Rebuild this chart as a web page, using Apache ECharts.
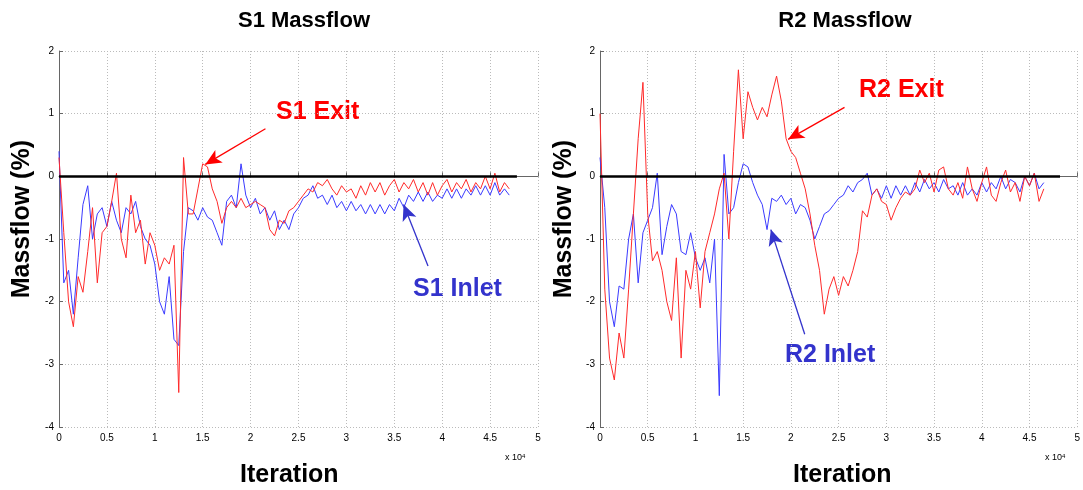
<!DOCTYPE html>
<html>
<head>
<meta charset="utf-8">
<script src="https://cdn.jsdelivr.net/npm/echarts@6/dist/echarts.min.js"></script>
<style>
html, body { margin: 0; padding: 0; background: #fff; }
#main { width: 1083px; height: 490px; }
</style>
</head>
<body>
<div id="main"></div>
<script>
// iteration samples (every 500)
var iterations = [0,500,1000,1500,2000,2500,3000,3500,4000,4500,
  5000,5500,6000,6500,7000,7500,8000,8500,9000,9500,
  10000,10500,11000,11500,12000,12500,13000,13500,14000,14500,
  15000,15500,16000,16500,17000,17500,18000,18500,19000,19500,
  20000,20500,21000,21500,22000,22500,23000,23500,24000,24500,
  25000,25500,26000,26500,27000,27500,28000,28500,29000,29500,
  30000,30500,31000,31500,32000,32500,33000,33500,34000,34500,
  35000,35500,36000,36500,37000,37500,38000,38500,39000,39500,
  40000,40500,41000,41500,42000,42500,43000,43500,44000,44500,
  45000,45500,46000,46500,47000]

// S1 massflow (%)
var s1Exit = [0.3,-0.9,-2.0,-2.4,-1.6,-1.85,-1.2,-0.5,-1.7,-0.9,
  -0.8,-0.4,0.05,-1.0,-1.3,-0.3,-0.9,-0.7,-1.4,-0.9,
  -1.1,-1.5,-1.3,-1.4,-1.1,-3.45,0.3,-0.6,-0.6,-0.2,
  0.2,0.15,-0.2,-0.4,-0.75,-0.5,-0.4,-0.5,-0.35,-0.5,
  -0.45,-0.4,-0.45,-0.5,-0.85,-0.95,-0.7,-0.75,-0.55,-0.5,
  -0.4,-0.3,-0.2,-0.25,-0.1,-0.15,-0.05,-0.2,-0.3,-0.15,
  -0.25,-0.2,-0.35,-0.15,-0.3,-0.1,-0.25,-0.1,-0.3,-0.15,
  -0.05,-0.25,-0.1,-0.2,-0.05,-0.25,-0.1,-0.3,-0.1,-0.3,
  -0.15,-0.05,-0.25,-0.1,-0.2,-0.05,-0.25,-0.1,-0.2,0.0,
  -0.2,0.05,-0.25,-0.1,-0.2]
var s1Inlet = [0.4,-1.7,-1.5,-2.2,-1.3,-0.45,-0.15,-1.0,-0.6,-0.5,
  -0.8,-0.4,-0.7,-0.9,-0.5,-0.6,-0.4,-0.8,-1.0,-1.1,
  -1.4,-2.0,-2.2,-1.6,-2.6,-2.7,-1.2,-0.5,-0.55,-0.7,
  -0.5,-0.65,-0.7,-0.9,-1.1,-0.4,-0.3,-0.5,0.2,-0.3,
  -0.5,-0.35,-0.6,-0.5,-0.7,-0.55,-0.85,-0.7,-0.85,-0.6,
  -0.5,-0.35,-0.3,-0.15,-0.35,-0.3,-0.45,-0.3,-0.5,-0.4,
  -0.55,-0.4,-0.55,-0.45,-0.6,-0.45,-0.6,-0.45,-0.6,-0.45,
  -0.55,-0.35,-0.5,-0.3,-0.4,-0.25,-0.4,-0.25,-0.4,-0.3,
  -0.35,-0.2,-0.35,-0.2,-0.35,-0.2,-0.3,-0.15,-0.3,-0.15,
  -0.3,-0.1,-0.3,-0.2,-0.3]

// R2 massflow (%)
var r2Exit = [1.0,-1.8,-2.9,-3.25,-2.5,-2.9,-1.8,-0.6,0.6,1.5,
  -0.6,-1.35,-1.2,-1.5,-2.0,-2.3,-1.3,-2.9,-1.5,-1.8,
  -1.2,-2.1,-1.2,-0.9,-0.6,-0.2,0.05,-1.0,0.4,1.7,
  0.6,1.35,1.1,0.9,1.1,0.95,1.3,1.6,1.2,0.6,
  0.4,0.3,0.05,-0.2,-0.6,-1.1,-1.5,-2.2,-1.8,-1.6,
  -1.9,-1.6,-1.75,-1.5,-1.2,-0.55,-0.65,-0.3,-0.2,-0.4,
  -0.45,-0.7,-0.5,-0.35,-0.25,-0.3,-0.2,0.1,-0.1,0.05,
  -0.25,0.1,0.15,-0.2,-0.3,-0.1,-0.35,0.15,-0.2,-0.4,
  -0.1,0.15,-0.3,-0.4,-0.1,0.1,-0.25,-0.1,-0.4,0.0,
  -0.15,0.05,-0.4,-0.2]
var r2Inlet = [0.3,-0.5,-2.0,-2.4,-1.75,-1.8,-1.0,-0.6,-1.7,-0.9,
  -0.7,-0.5,0.05,-1.25,-0.8,-0.45,-0.6,-1.2,-1.25,-0.9,
  -1.3,-1.5,-1.3,-1.7,-1.0,-3.5,0.35,-0.6,-0.5,-0.1,
  0.2,0.15,-0.1,-0.3,-0.45,-0.85,-0.35,-0.4,-0.3,-0.45,
  -0.35,-0.6,-0.45,-0.5,-0.7,-1.0,-0.8,-0.6,-0.55,-0.45,
  -0.35,-0.3,-0.15,-0.25,-0.1,-0.05,0.05,-0.3,-0.2,-0.35,
  -0.15,-0.35,-0.15,-0.3,-0.15,-0.3,-0.1,-0.25,-0.05,-0.2,
  -0.1,-0.25,-0.05,-0.2,-0.15,-0.3,-0.1,-0.3,-0.2,-0.3,
  -0.1,-0.25,-0.1,-0.2,0.0,-0.2,-0.05,-0.1,-0.25,0.0,
  -0.15,0.05,-0.2,-0.1]

var xTicks = ['0','0.5','1','1.5','2','2.5','3','3.5','4','4.5','5']

var RED = '#ff2a2a'
var BLUE = '#3a3aff'
var FONT = '"Liberation Sans", Arial, sans-serif'

function pairs(vals) {
  var out = []
  for (var i = 0; i < vals.length; i++) out.push([iterations[i], vals[i]])
  return out
}

function xAx(idx) {
  return {
    type: 'value', gridIndex: idx, min: 0, max: 50000, interval: 5000,
    axisLine: { lineStyle: { color: '#666', width: 1 } },
    axisTick: { inside: true, length: 4, lineStyle: { color: '#666' } },
    axisLabel: { fontFamily: FONT, fontSize: 10, color: '#000', margin: 6,
      formatter: function (v) { return xTicks[Math.round(v / 5000)] } },
    splitLine: { show: true, lineStyle: { color: '#bbb', type: [1, 2] } }
  }
}

function yAx(idx) {
  return {
    type: 'value', gridIndex: idx, min: -4, max: 2, interval: 1,
    axisLine: { show: true, lineStyle: { color: '#666', width: 1 } },
    axisTick: { show: true, inside: true, length: 4, lineStyle: { color: '#666' } },
    axisLabel: { fontFamily: FONT, fontSize: 10, color: '#000', margin: 5 },
    splitLine: { show: true, lineStyle: { color: '#bbb', type: [1, 2] } }
  }
}

function zeroLine(end) {
  return {
    silent: true, symbol: 'none', animation: false,
    lineStyle: { color: '#000', width: 2.5, type: 'solid' },
    label: { show: false },
    data: [[{ coord: [0, 0] }, { coord: [end, 0] }]]
  }
}

function arrow(color, from, to) {
  return {
    silent: true, symbol: ['none', 'arrow'], symbolSize: [11, 16], animation: false,
    lineStyle: { color: color, width: 1.3, type: 'solid' },
    label: { show: false },
    data: [[{ coord: from }, { coord: to }]]
  }
}

function line(name, vals, color, xi) {
  return {
    name: name, type: 'line', xAxisIndex: xi, yAxisIndex: xi,
    data: pairs(vals), showSymbol: false, symbol: 'none',
    lineStyle: { color: color, width: 1 }, itemStyle: { color: color },
    z: 2
  }
}

function txt(s, x, y, color, size, extra) {
  var g = { type: 'text', left: x, top: y, style: { text: s, fill: color, font: 'bold ' + size + 'px ' + FONT } }
  if (extra) for (var k in extra) g[k] = extra[k]
  return g
}

function expo(x) {
  return { type: 'text', left: x, top: 453, style: {
    rich: { a: { fontSize: 9, fontFamily: FONT, fill: '#000' },
            b: { fontSize: 6, fontFamily: FONT, fill: '#000', verticalAlign: 'top' } },
    text: '{a|x 10}{b|4}' } }
}

var myChart = echarts.init(document.getElementById('main'))
myChart.setOption({
  animation: false,
  title: [
    { text: 'S1 Massflow', left: 299, top: 5, textAlign: 'center',
      textStyle: { fontFamily: FONT, fontWeight: 'bold', fontSize: 22, color: '#000' } },
    { text: 'R2 Massflow', left: 840, top: 5, textAlign: 'center',
      textStyle: { fontFamily: FONT, fontWeight: 'bold', fontSize: 22, color: '#000' } }
  ],
  grid: [
    { left: 59, right: 545, top: 51, bottom: 63 },
    { left: 600, right: 4, top: 51, bottom: 63 }
  ],
  xAxis: [xAx(0), xAx(1)],
  yAxis: [yAx(0), yAx(1)],
  graphic: [
    txt('S1 Exit', 276, 100, '#ff0000', 25),
    txt('S1 Inlet', 413, 277, '#3333cc', 25),
    txt('R2 Exit', 859, 78, '#ff0000', 25),
    txt('R2 Inlet', 785, 343, '#3333cc', 25),
    txt('Iteration', 240, 463, '#000', 25),
    txt('Iteration', 793, 463, '#000', 25),
    txt('Massflow (%)', 10, 140, '#000', 25, { rotation: Math.PI / 2 }),
    txt('Massflow (%)', 552, 140, '#000', 25, { rotation: Math.PI / 2 }),
    expo(505),
    expo(1045)
  ],
  series: [
    line('S1 Inlet', s1Inlet, BLUE, 0),
    line('S1 Exit', s1Exit, RED, 0),
    { type: 'line', xAxisIndex: 0, yAxisIndex: 0, data: [], silent: true,
      markLine: zeroLine(47800) },
    { type: 'line', xAxisIndex: 0, yAxisIndex: 0, data: [], silent: true,
      markLine: arrow('#ff0000', [21550, 0.76], [15270, 0.19]) },
    { type: 'line', xAxisIndex: 0, yAxisIndex: 0, data: [], silent: true,
      markLine: arrow('#3333cc', [38520, -1.43], [35970, -0.45]) },
    line('R2 Inlet', r2Inlet, BLUE, 1),
    line('R2 Exit', r2Exit, RED, 1),
    { type: 'line', xAxisIndex: 1, yAxisIndex: 1, data: [], silent: true,
      markLine: zeroLine(48200) },
    { type: 'line', xAxisIndex: 1, yAxisIndex: 1, data: [], silent: true,
      markLine: arrow('#ff0000', [25620, 1.1], [19710, 0.59]) },
    { type: 'line', xAxisIndex: 1, yAxisIndex: 1, data: [], silent: true,
      markLine: arrow('#3333cc', [21450, -2.52], [17900, -0.85]) }
  ]
})
</script>
</body>
</html>
